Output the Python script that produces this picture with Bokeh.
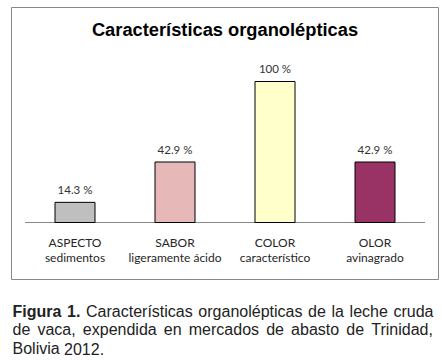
from bokeh.plotting import figure
from bokeh.models import FactorRange, Range1d, ColumnDataSource
from bokeh.layouts import column
from bokeh.core.properties import value
from bokeh.embed import file_html
from bokeh.resources import INLINE

# ---- data ----
categories = ["ASPECTO", "SABOR", "COLOR", "OLOR"]
subcategories = ["sedimentos", "ligeramente ácido", "característico", "avinagrado"]
percentages = [14.3, 42.9, 100.0, 42.9]
value_labels = ["14.3 %", "42.9 %", "100 %", "42.9 %"]
bar_colors = ["#BFBFBF", "#E6B9B8", "#FFFFCC", "#993366"]
chart_title = "Características organolépticas"
caption_bold = "Figura 1."
caption_line1 = "Características organolépticas de la leche cruda"
caption_line2 = "de vaca, expendida en mercados de abasto de Trinidad,"
caption_line3 = "Bolivia 2012."

# ---- chart ----
PX_PER_UNIT = 1.41
FRAME_TOP, BASE, FRAME_BOTTOM = 7, 222, 279
FRAME_LEFT, FRAME_RIGHT, W = 11, 438, 443
y_start = -(FRAME_BOTTOM - BASE) / PX_PER_UNIT
y_end = (BASE - FRAME_TOP) / PX_PER_UNIT

p = figure(width=W, height=281,
           x_range=FactorRange(factors=categories, range_padding=0.135,
                               range_padding_units="absolute"),
           y_range=Range1d(y_start, y_end),
           x_axis_type=None, y_axis_type=None,
           toolbar_location=None, output_backend="svg",
           min_border_left=FRAME_LEFT, min_border_right=W - FRAME_RIGHT,
           min_border_top=FRAME_TOP, min_border_bottom=281 - FRAME_BOTTOM)
p.outline_line_color = "#888888"
p.outline_line_width = 1
p.background_fill_color = "white"
p.border_fill_color = "white"
p.grid.visible = False

src = ColumnDataSource(dict(
    cat=categories,
    pct=percentages,
    lbl=value_labels,
    col=bar_colors,
    catlbl=[c + "\n" + s for c, s in zip(categories, subcategories)],
))

# baseline (category axis line)
p.segment(x0=0, y0=0, x1=len(categories), y1=0, line_color="#888888", line_width=1)

p.vbar(x="cat", top="pct", bottom=0, width=0.4, fill_color="col",
       line_color="black", line_width=1, source=src)

p.text(x="cat", y="pct", text="lbl", source=src, y_offset=-13,
       text_align="center", text_baseline="alphabetic",
       text_font=value("Lato"), text_font_size="11.5px", text_color="#333333")

p.text(x="cat", y=0, text="catlbl", source=src, y_offset=12,
       text_align="center", text_baseline="top", text_line_height=1.04,
       text_font=value("Lato"), text_font_size="12px", text_color="#262626")

p.text(x=[len(categories) / 2], y=[y_end], text=[chart_title], y_offset=21.5,
       text_align="center", text_baseline="middle",
       text_font=value("Liberation Sans"), text_font_size="18.3px",
       text_font_style="bold", text_color="black")

# ---- caption (justified using Arial/Liberation metrics) ----
W_R = {' ': 278, ',': 278, '.': 278, 'a': 556, 'b': 556, 'c': 500, 'd': 556,
       'e': 556, 'g': 556, 'h': 556, 'i': 222, 'l': 222, 'm': 833, 'n': 556,
       'o': 556, 'p': 556, 'r': 333, 's': 500, 't': 278, 'u': 556, 'v': 500,
       'x': 500, 'á': 556, 'é': 556, 'í': 278, 'B': 667, 'C': 722, 'T': 611,
       '0': 556, '1': 556, '2': 556}
W_B = {'F': 611, 'i': 278, 'g': 611, 'u': 611, 'r': 389, 'a': 556, '1': 556,
       '.': 278, ' ': 278}
FS = 16
CH = 82
LEFT, RIGHT = 12, 433
BASELINES = [29.7, 48.3, 67.3]


def width(word, bold):
    table = W_B if bold else W_R
    return sum(table.get(ch, 556) for ch in word) * FS / 1000.0


def justify(tokens, justified=True):
    widths = [width(w, b) for w, b in tokens]
    if justified and len(tokens) > 1:
        gap = (RIGHT - LEFT - sum(widths)) / (len(tokens) - 1)
    else:
        gap = W_R[' '] * FS / 1000.0
    xs, x = [], LEFT
    for w in widths:
        xs.append(x)
        x += w + gap
    return xs


lines = [
    [(w, True) for w in caption_bold.split()] + [(w, False) for w in caption_line1.split()],
    [(w, False) for w in caption_line2.split()],
    [(w, False) for w in caption_line3.split()],
]

bx, by, bt, rx, ry, rt = [], [], [], [], [], []
for i, toks in enumerate(lines):
    xs = justify(toks, justified=(i < 2))
    for (w, b), x in zip(toks, xs):
        if b:
            bx.append(x); by.append(BASELINES[i]); bt.append(w)
        else:
            rx.append(x); ry.append(BASELINES[i]); rt.append(w)

# caption figure shares the chart's frame alignment inside the column,
# so its x range maps page pixels FRAME_LEFT..FRAME_RIGHT
q = figure(width=W, height=CH, x_range=Range1d(FRAME_LEFT, FRAME_RIGHT),
           y_range=Range1d(CH, 0),
           x_axis_type=None, y_axis_type=None, toolbar_location=None,
           output_backend="svg", min_border_left=FRAME_LEFT,
           min_border_right=W - FRAME_RIGHT, min_border_top=0, min_border_bottom=0)
q.outline_line_color = None
q.grid.visible = False
q.background_fill_color = "white"
q.border_fill_color = "white"

q.text(x=bx, y=by, text=bt, text_align="left", text_baseline="alphabetic",
       text_font=value("Liberation Sans"), text_font_size=f"{FS}px",
       text_font_style="bold", text_color="#222222")
q.text(x=rx, y=ry, text=rt, text_align="left", text_baseline="alphabetic",
       text_font=value("Liberation Sans"), text_font_size=f"{FS}px",
       text_color="#222222")

layout = column(p, q, spacing=0)
open("out.html", "w").write(file_html(layout, INLINE))
